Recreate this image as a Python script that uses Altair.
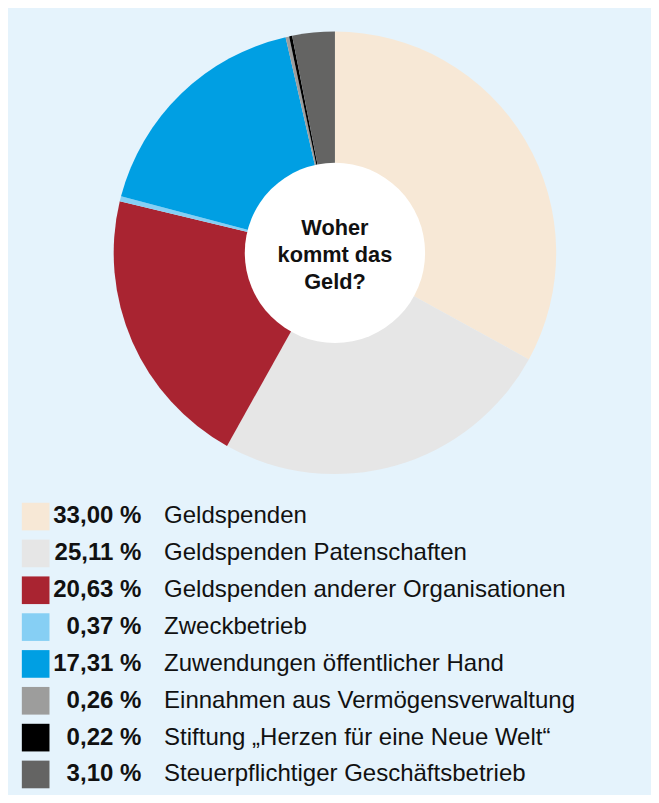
import altair as alt
import pandas as pd

values = [33.00, 25.11, 20.63, 0.37, 17.31, 0.26, 0.22, 3.10]
labels = [
    "Geldspenden",
    "Geldspenden Patenschaften",
    "Geldspenden anderer Organisationen",
    "Zweckbetrieb",
    "Zuwendungen öffentlicher Hand",
    "Einnahmen aus Vermögensverwaltung",
    "Stiftung „Herzen für eine Neue Welt“",
    "Steuerpflichtiger Geschäftsbetrieb",
]
colors = ["#f7e8d6", "#e6e6e6", "#a92431", "#86cff4", "#009fe3", "#9d9d9c", "#000000", "#646463"]
center_lines = ["Woher", "kommt das", "Geld?"]

df = pd.DataFrame({
    "idx": list(range(len(values))),
    "value": values,
    "label": labels,
    "pct": [f"{v:.2f}".replace(".", ",") + " %" for v in values],
})

color_scale = alt.Scale(domain=labels, range=colors)
FONT = "Liberation Sans"
W, H = 651, 787
CX, CY = 331, 243

base = alt.Chart(df)

pie = base.mark_arc(outerRadius=224, innerRadius=0, strokeWidth=0).encode(
    theta=alt.Theta("value:Q", stack=True),
    order=alt.Order("idx:Q"),
    color=alt.Color("label:N", scale=color_scale, legend=None),
    x=alt.value(CX),
    y=alt.value(CY),
)

hole = alt.Chart(pd.DataFrame({"k": [0]})).mark_circle(
    color="white", opacity=1, size=3.14159 * 103 * 103
).encode(x=alt.value(CX), y=alt.value(CY))

center_df = pd.DataFrame({"line": center_lines, "i": list(range(len(center_lines)))})
center = alt.Chart(center_df).mark_text(
    font=FONT, fontSize=22, fontWeight="bold", color="#111111", align="center", baseline="middle"
).encode(
    x=alt.value(CX),
    y=alt.Y("i:Q", scale=alt.Scale(domain=[0, 2], range=[CY - 25, CY + 30]), axis=None),
    text="line:N",
)

yscale = alt.Scale(domain=[0, 7], range=[510, 510 + 7 * 37.3])

squares = base.mark_square(size=784, opacity=1, strokeWidth=0).encode(
    x=alt.value(28),
    y=alt.Y("idx:Q", scale=yscale, axis=None),
    color=alt.Color("label:N", scale=color_scale, legend=None),
)

pcts = base.mark_text(
    font=FONT, fontSize=24.3, fontWeight="bold", color="#111111", align="right", baseline="middle"
).encode(
    x=alt.value(135),
    y=alt.Y("idx:Q", scale=yscale, axis=None),
    text="pct:N",
)

names = base.mark_text(
    font=FONT, fontSize=24.3, color="#111111", align="left", baseline="middle"
).encode(
    x=alt.value(158),
    y=alt.Y("idx:Q", scale=yscale, axis=None),
    text="label:N",
)

chart = alt.layer(pie, hole, center, squares, pcts, names).resolve_scale(
    y="independent"
).properties(
    width=W, height=H, padding=0, autosize=alt.AutoSizeParams(type="none"),
    background="#e5f3fc",
).configure_view(stroke=None, fill="#e5f3fc")

chart.save("out.html", embed_options={"renderer": "svg", "actions": False})
